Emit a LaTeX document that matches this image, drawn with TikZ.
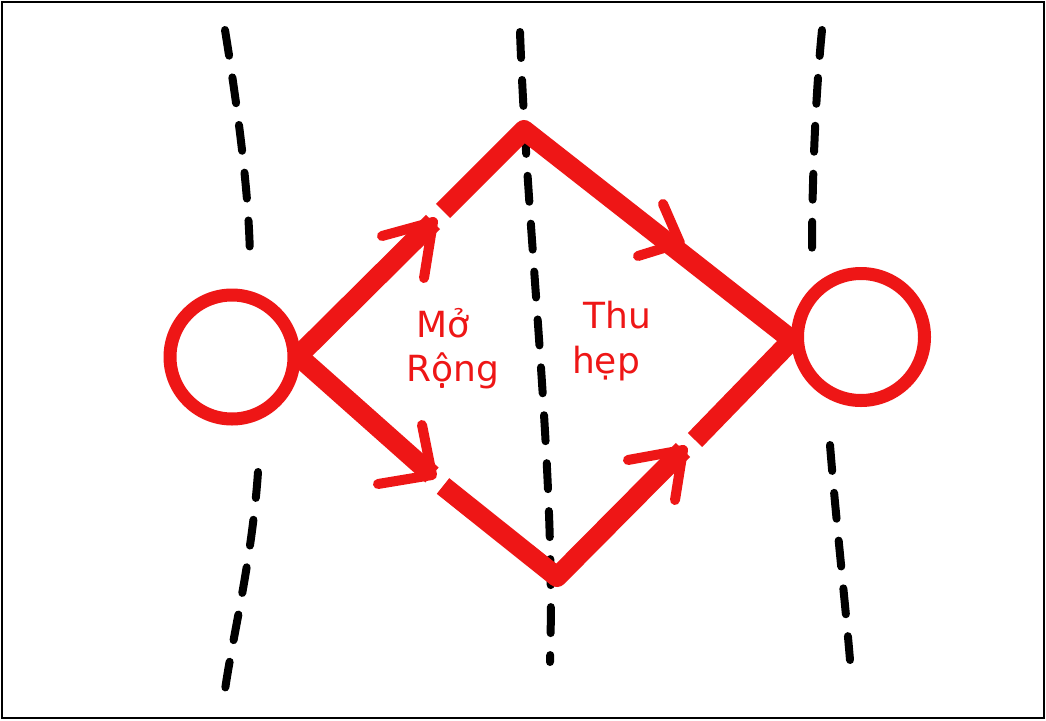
\documentclass[tikz,border=0pt]{standalone}
\usepackage{fontspec}
\newfontfamily\hand{DejaVu Sans}
\definecolor{sketchred}{RGB}{238,22,22}
\begin{document}
\begin{tikzpicture}[x=1pt,y=-1pt,
  redline/.style={draw=sketchred, line width=20pt, line join=round},
  chev/.style={draw=sketchred, line width=10pt, line cap=round, line join=round},
  ring/.style={circle, draw=sketchred, line width=13pt, inner sep=0pt},
  blackdash/.style={draw=black, line width=8pt, line cap=round, dash pattern=on 26pt off 22pt},
  lbl/.style={text=sketchred, font=\hand\fontsize{36}{36}\selectfont, anchor=base, inner sep=0pt}]
\useasboundingbox (0,0) rectangle (1046,720);
\fill[white] (0,0) rectangle (1046,720);
\draw[line width=2.5pt] (2,2) rectangle (1044,718);
% dashed guide lines
\draw[blackdash] (225,30) .. controls (238,110) and (250,200) .. (250,265);
\draw[blackdash] (258,472) .. controls (252,560) and (232,640) .. (225,690);
\draw[blackdash] (520,32) .. controls (528,250) and (556,470) .. (550,662);
\draw[blackdash] (822,30) .. controls (815,100) and (812,190) .. (812,252);
\draw[blackdash] (830,445) .. controls (836,520) and (845,600) .. (850,660);
% circles
\node[ring, minimum size=124pt] (L) at (232,357) {};
\node[ring, minimum size=127pt] (R) at (861,337) {};
\coordinate (Ls) at (298,356);
\coordinate (Rs) at (792,340);
\coordinate (T) at (524,130);
\coordinate (B) at (557,577);
\coordinate (a1) at (433,222);
\coordinate (a1b) at (443,211);
\coordinate (a3) at (432,475);
\coordinate (a3b) at (443,486);
\coordinate (a4) at (683,450);
\coordinate (a4b) at (695,440);
% red paths
\draw[redline] (Ls) -- (a1);
\draw[redline] (a1b) -- (T) -- (Rs);
\draw[redline] (Ls) -- (a3);
\draw[redline] (a3b) -- (B) -- (a4);
\draw[redline] (a4b) -- (Rs);
% chevrons
\draw[chev] (382,236) -- (a1) -- (424,278);
\draw[chev] (663,204) -- (680,243) -- (638,256);
\draw[chev] (422,425) -- (a3) -- (378,484);
\draw[chev] (628,460) -- (a4) -- (675,500);
% labels
\node[lbl] (t1) at (443,337) {Mở};
\node[lbl] (t2) at (453,381) {Rộng};
\node[lbl] (t3) at (617,328) {Thu};
\node[lbl] (t4) at (606,373) {hẹp};
\end{tikzpicture}
\end{document}
